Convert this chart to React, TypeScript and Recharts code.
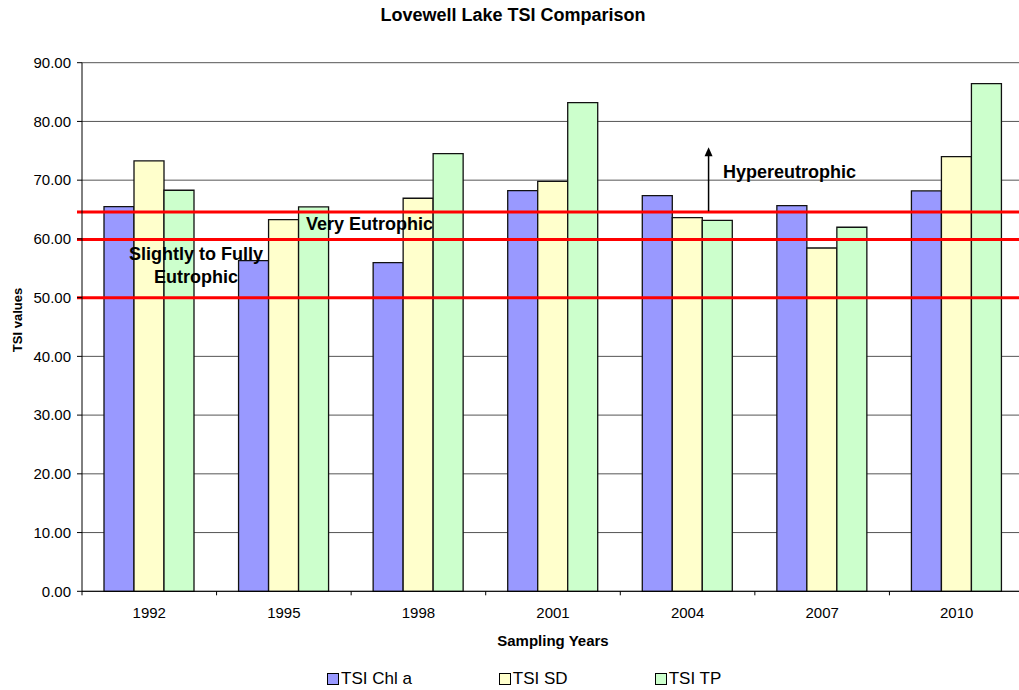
import { Bar, BarChart, CartesianGrid, ReferenceLine, XAxis, YAxis } from 'recharts'

const years = ['1992', '1995', '1998', '2001', '2004', '2007', '2010']
const tsiChla = [65.49, 56.29, 55.95, 68.21, 67.36, 65.66, 68.16]
const tsiSd = [73.27, 63.27, 66.92, 69.81, 63.61, 58.45, 74.0]
const tsiTp = [68.28, 65.44, 74.51, 83.19, 63.17, 61.98, 86.43]
const yTicks = [0, 10, 20, 30, 40, 50, 60, 70, 80, 90]

// trophic state thresholds drawn as red bands
const thresholds = [64.6, 59.9, 50]
const hyperArrow = { year: '2004', from: 64.7, to: 75.6 }

const series = [
  { key: 'chla', name: 'TSI Chl a', color: '#9999ff' },
  { key: 'sd', name: 'TSI SD', color: '#ffffcc' },
  { key: 'tp', name: 'TSI TP', color: '#ccffcc' },
]

const data = years.map((year, i) => ({ year, chla: tsiChla[i], sd: tsiSd[i], tp: tsiTp[i] }))

const FONT = '"Liberation Sans", Arial, sans-serif'

const YearTick = (props: any) => {
  const { x, y, payload, index } = props
  const half = payload?.offset ?? 67.27
  return (
    <g>
      <line x1={x - half} y1={y} x2={x - half} y2={y + 4} stroke="#000" />
      {index === years.length - 1 && <line x1={x + half} y1={y} x2={x + half} y2={y + 4} stroke="#000" />}
      <text x={x} y={y + 27} textAnchor="middle" fontSize={15} fill="#000" fontFamily={FONT}>
        {payload.value}
      </text>
    </g>
  )
}

const RedLine = (props: any) => (
  <line x1={props.x1 - 5} y1={props.y1} x2={props.x2} y2={props.y2} stroke="#ff0000" strokeWidth={3} />
)

const UpArrow = (props: any) => {
  const x = props.x1 + 21
  const top = Math.min(props.y1, props.y2)
  const bottom = Math.max(props.y1, props.y2)
  return (
    <g>
      <line x1={x} y1={bottom} x2={x} y2={top + 8} stroke="#000" strokeWidth={1.5} />
      <polygon points={`${x - 4},${top + 9} ${x + 4},${top + 9} ${x},${top}`} fill="#000" />
    </g>
  )
}

export default function App() {
  return (
    <div style={{ position: 'absolute', left: 0, top: 0, width: 1019, height: 690, overflow: 'hidden', background: '#fff', fontFamily: FONT }}>
      <BarChart
        width={1024}
        height={690}
        data={data}
        margin={{ top: 62.7, right: 0, bottom: 68.7, left: 0 }}
        barCategoryGap={22}
        barGap={0}
      >
        <CartesianGrid vertical={false} stroke="#555" />
        <XAxis
          dataKey="year"
          height={30}
          tickLine={false}
          tickSize={0}
          tickMargin={0}
          axisLine={{ stroke: '#000' }}
          tick={<YearTick />}
          interval={0}
        />
        <YAxis
          width={82}
          domain={[0, 90]}
          ticks={yTicks}
          tickFormatter={(v) => Number(v).toFixed(2)}
          tickSize={5}
          tickMargin={6}
          axisLine={{ stroke: '#000' }}
          tickLine={{ stroke: '#000' }}
          tick={{ fontSize: 15, fill: '#000', fontFamily: FONT }}
        />
        {series.map((s) => (
          <Bar key={s.key} dataKey={s.key} name={s.name} fill={s.color} stroke="#111" strokeWidth={1.3} isAnimationActive={false} />
        ))}
        {thresholds.map((t) => (
          <ReferenceLine key={t} y={t} shape={<RedLine />} />
        ))}
        <ReferenceLine
          segment={[
            { x: hyperArrow.year, y: hyperArrow.from },
            { x: hyperArrow.year, y: hyperArrow.to },
          ]}
          shape={<UpArrow />}
        />
      </BarChart>

      <svg width={1019} height={690} style={{ position: 'absolute', left: 0, top: 0, pointerEvents: 'none' }} fontFamily={FONT}>
        <text x={513} y={20.7} textAnchor="middle" fontSize={18} fontWeight="bold">
          Lovewell Lake TSI Comparison
        </text>
        <text x={553} y={645.5} textAnchor="middle" fontSize={15} fontWeight="bold">
          Sampling Years
        </text>
        <text transform="translate(21.5,320) rotate(-90)" textAnchor="middle" fontSize={13} fontWeight="bold">
          TSI values
        </text>
        <text x={723} y={178} fontSize={18} fontWeight="bold">
          Hypereutrophic
        </text>
        <text x={306} y={229.5} fontSize={18} fontWeight="bold">
          Very Eutrophic
        </text>
        <text x={196} y={259.5} textAnchor="middle" fontSize={18} fontWeight="bold">
          Slightly to Fully
        </text>
        <text x={196} y={282.5} textAnchor="middle" fontSize={18} fontWeight="bold">
          Eutrophic
        </text>
      </svg>

      <div style={{ position: 'absolute', left: 327, top: 668, display: 'flex', gap: 87, fontSize: 17, lineHeight: '22px' }}>
        {series.map((s) => (
          <div key={s.key} style={{ display: 'flex', alignItems: 'center' }}>
            <span style={{ display: 'inline-block', width: 10, height: 10, background: s.color, border: '1px solid #000', marginRight: 2 }} />
            <span>{s.name}</span>
          </div>
        ))}
      </div>
    </div>
  )
}
